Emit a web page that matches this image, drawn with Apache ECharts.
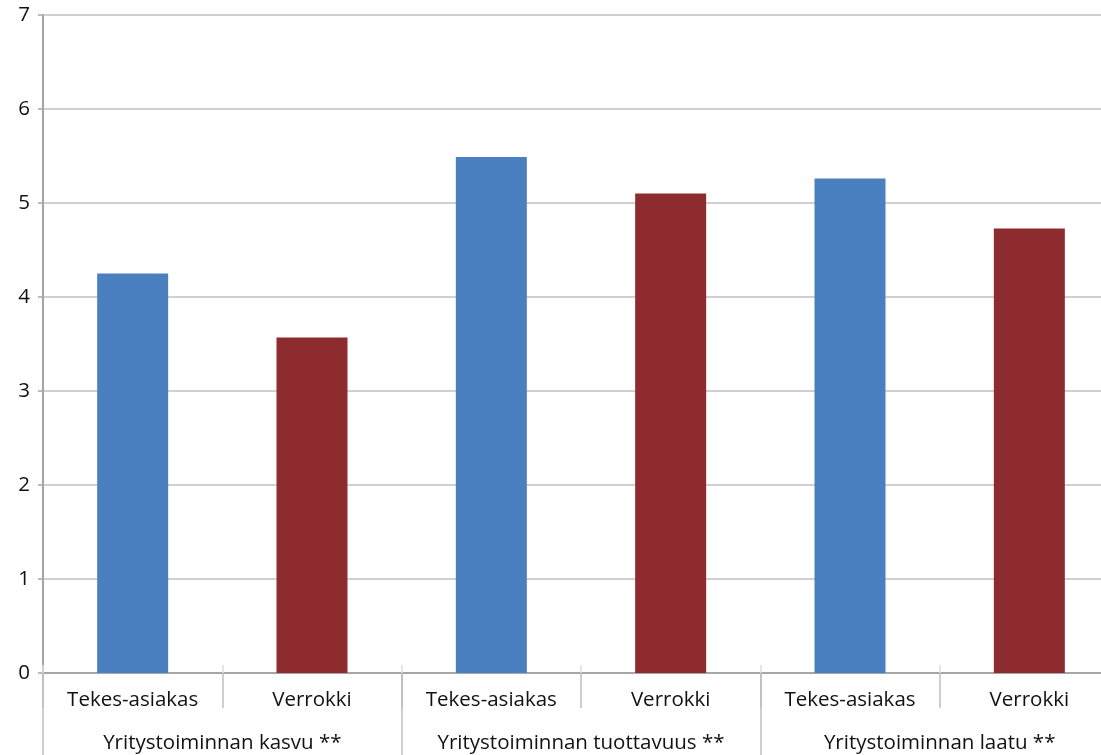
<!DOCTYPE html>
<html>
<head>
<meta charset="utf-8">
<script src="https://cdn.jsdelivr.net/npm/echarts@6/dist/echarts.min.js"></script>
<style>
  html, body { margin: 0; padding: 0; background: #fff; }
  #chart { width: 1101px; height: 755px; }
</style>
</head>
<body>
<div id="chart"></div>
<script>
// data
var categories = ['Tekes-asiakas', 'Verrokki', 'Tekes-asiakas', 'Verrokki', 'Tekes-asiakas', 'Verrokki'];
var groups = ['Yritystoiminnan kasvu **', 'Yritystoiminnan tuottavuus **', 'Yritystoiminnan laatu **'];
var values = [4.25, 3.57, 5.49, 5.10, 5.26, 4.73];
var yTicks = [0, 1, 2, 3, 4, 5, 6, 7];

var colors = ['#4a80bf', '#8e2b2f'];
var fontFamily = '"Open Sans", "Noto Sans", sans-serif';

var chart = echarts.init(document.getElementById('chart'));

var option = {
  animation: false,
  // plot runs past the right edge of the window, as in the original
  grid: { left: 43, top: 15, width: 1076, height: 658, outerBoundsMode: 'none', containLabel: false },
  xAxis: [
    {
      type: 'category',
      data: categories,
      axisLine: { lineStyle: { color: '#a6a6a6', width: 2 } },
      axisTick: { show: true, interval: 0, length: 35, lineStyle: { color: '#bfbfbf', width: 1.5 } },
      axisLabel: { interval: 0, margin: 17, fontSize: 20.5, color: '#111', fontFamily: fontFamily }
    },
    {
      // short marks poking up above the axis
      type: 'category',
      data: categories,
      position: 'bottom',
      axisLine: { show: false },
      axisTick: { show: true, interval: 0, inside: true, length: 8, lineStyle: { color: '#dddddd', width: 1.5 } },
      axisLabel: { show: false }
    },
    {
      type: 'category',
      data: groups,
      position: 'bottom',
      axisLine: { show: false },
      axisTick: { show: true, interval: 0, length: 90, lineStyle: { color: '#bfbfbf', width: 1.5 } },
      axisLabel: { interval: 0, hideOverlap: false, margin: 60, fontSize: 20.5, color: '#111', fontFamily: fontFamily }
    }
  ],
  yAxis: {
    type: 'value',
    min: 0,
    max: 7,
    interval: 1,
    axisLine: { show: true, lineStyle: { color: '#a6a6a6', width: 2 } },
    axisTick: { show: true, length: 5, lineStyle: { color: '#a6a6a6', width: 1.5 } },
    axisLabel: {
      margin: 13,
      fontSize: 20.5,
      color: '#111',
      fontFamily: fontFamily,
      formatter: function (v) { return yTicks.indexOf(v) >= 0 ? String(v) : ''; }
    },
    splitLine: { lineStyle: { color: '#c0c0c0', width: 1.5 } }
  },
  series: [
    {
      type: 'bar',
      xAxisIndex: 0,
      barWidth: 71,
      data: values.map(function (v, i) {
        return { value: v, itemStyle: { color: colors[i % 2] } };
      })
    }
  ]
};

chart.setOption(option);
</script>
</body>
</html>
